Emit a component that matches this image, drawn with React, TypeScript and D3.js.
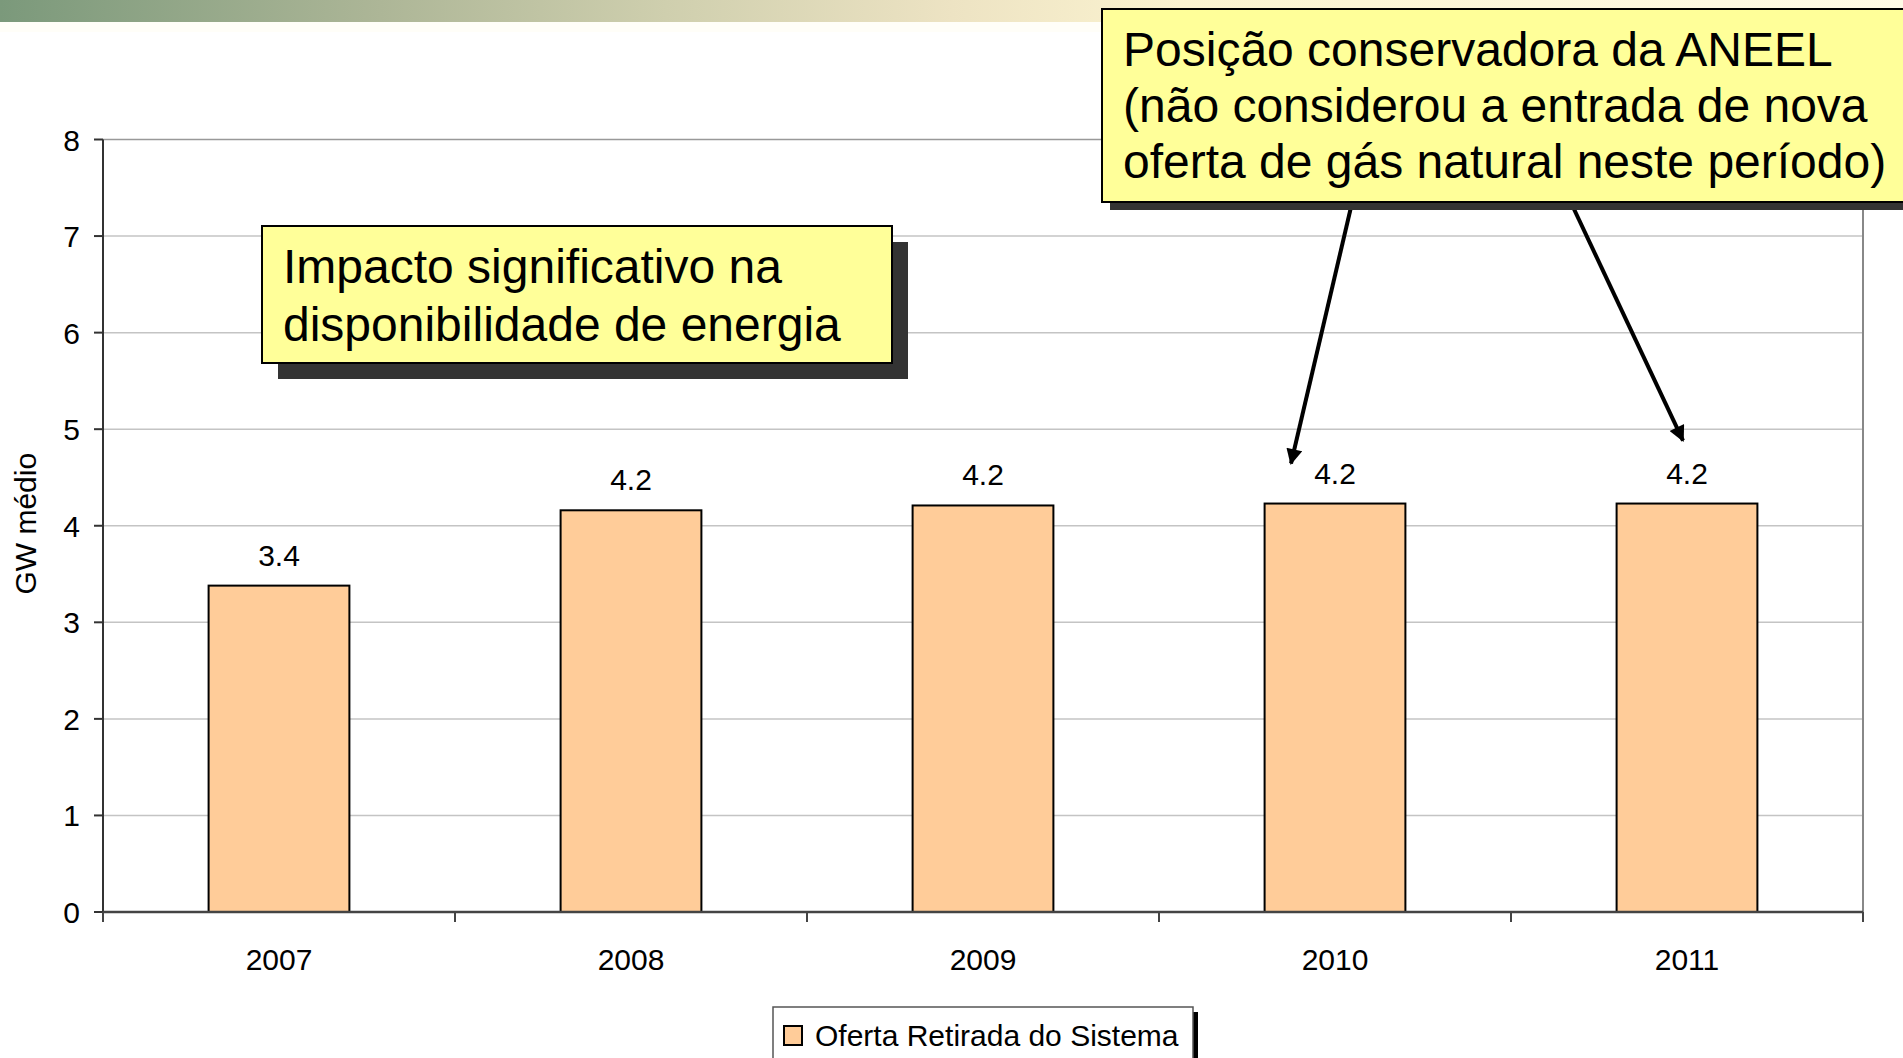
import React from 'react';
import * as d3 from 'd3';

const years = ['2007', '2008', '2009', '2010', '2011'];
const oferta = [3.38, 4.16, 4.21, 4.23, 4.23];
const yTicks = [0, 1, 2, 3, 4, 5, 6, 7, 8];
const seriesName = 'Oferta Retirada do Sistema';
const yLabel = 'GW médio';
const noteLeft = ['Impacto significativo na', 'disponibilidade de energia'];
const noteRight = [
  'Posição conservadora da ANEEL',
  '(não considerou a entrada de nova',
  'oferta de gás natural neste período)',
];

const W = 1903;
const H = 1058;
const FONT = '"Liberation Sans", Arial, sans-serif';

function Callout({ x, y, w, h, lines, shadow, lineGap }) {
  return (
    <g>
      <rect x={x + shadow} y={y + shadow} width={w} height={h} fill="#333333" />
      <rect x={x} y={y} width={w} height={h} fill="#ffff99" stroke="#000" strokeWidth={2} />
      {lines.map((t, i) => (
        <text key={i} x={x + 21} y={y + 57 + i * lineGap} fontSize={48} fontFamily={FONT} fill="#000">
          {t}
        </text>
      ))}
    </g>
  );
}

export default function App() {
  const margin = { left: 103, right: 40, top: 139.5, bottom: 146 };
  const x = d3.scaleBand()
    .domain(years)
    .range([margin.left, W - margin.right])
    .paddingInner(0.6)
    .paddingOuter(0.3);
  const y = d3.scaleLinear()
    .domain([0, 8])
    .range([H - margin.bottom, margin.top]);

  const x0 = margin.left;
  const x1 = W - margin.right;
  const step = x.step();
  const bounds = d3.range(years.length + 1).map(i => x0 + i * step);

  // arrow targets next to the 2010 and 2011 labels
  const c2010 = x('2010') + x.bandwidth() / 2;
  const c2011 = x('2011') + x.bandwidth() / 2;
  const arrows = [
    { x1: c2010 + 20, y1: 190, x2: c2010 - 44, y2: y(oferta[3]) - 40 },
    { x1: c2011 - 122, y1: 190, x2: c2011 - 4, y2: y(oferta[4]) - 63 },
  ];

  return (
    <svg width={W} height={H} style={{ position: 'absolute', left: 0, top: 0, background: '#fff' }}>
      <defs>
        <linearGradient id="band" x1="0" x2="1" y1="0" y2="0">
          <stop offset="0" stopColor="#7b997b" />
          <stop offset="0.2" stopColor="#adb697" />
          <stop offset="0.35" stopColor="#cfcfae" />
          <stop offset="0.5" stopColor="#ede3c3" />
          <stop offset="0.62" stopColor="#fbf3d0" />
          <stop offset="1" stopColor="#fffbe6" />
        </linearGradient>
        <marker id="head" viewBox="0 0 10 10" refX="9" refY="5" markerWidth="4.5" markerHeight="4" orient="auto" markerUnits="strokeWidth">
          <path d="M0,0 L10,5 L0,10 z" fill="#000" />
        </marker>
      </defs>
      <rect x={0} y={0} width={W} height={22} fill="url(#band)" />
      <rect x={0} y={22} width={W} height={10} fill="#fffdf3" opacity={0.6} />

      {/* grid */}
      {yTicks.filter(t => t > 0).map(t => (
        <line key={t} x1={x0} x2={x1} y1={y(t)} y2={y(t)} stroke={t === 8 ? '#999' : '#c4c4c4'} strokeWidth={1.5} />
      ))}
      <line x1={x1} x2={x1} y1={y(8)} y2={y(0) + 10} stroke="#888" strokeWidth={2} />

      {/* y axis */}
      <line x1={x0} x2={x0} y1={y(8)} y2={y(0) + 10} stroke="#333" strokeWidth={2} />
      {yTicks.map(t => (
        <g key={t}>
          <line x1={x0 - 9} x2={x0} y1={y(t)} y2={y(t)} stroke="#333" strokeWidth={2} />
          <text x={80} y={y(t) + 11} textAnchor="end" fontSize={30} fontFamily={FONT} fill="#000">{t}</text>
        </g>
      ))}
      <text transform={`translate(36,${(y(0) + y(8)) / 2 - 2}) rotate(-90)`} textAnchor="middle" fontSize={30} fontFamily={FONT} fill="#000">
        {yLabel}
      </text>

      {/* bars */}
      {years.map((yr, i) => (
        <g key={yr}>
          <rect x={x(yr)} y={y(oferta[i])} width={x.bandwidth()} height={y(0) - y(oferta[i])} fill="#ffcc99" stroke="#000" strokeWidth={2} />
          <text x={x(yr) + x.bandwidth() / 2} y={y(oferta[i]) - 20} textAnchor="middle" fontSize={30} fontFamily={FONT} fill="#000">
            {oferta[i].toFixed(1)}
          </text>
          <text x={x(yr) + x.bandwidth() / 2} y={y(0) + 58} textAnchor="middle" fontSize={30} fontFamily={FONT} fill="#000">
            {yr}
          </text>
        </g>
      ))}

      {/* x axis */}
      <line x1={x0} x2={x1} y1={y(0)} y2={y(0)} stroke="#444" strokeWidth={2.5} />
      {bounds.map((b, i) => (
        <line key={i} x1={b} x2={b} y1={y(0)} y2={y(0) + 10} stroke="#444" strokeWidth={2} />
      ))}

      {/* arrows */}
      {arrows.map((a, i) => (
        <line key={i} x1={a.x1} y1={a.y1} x2={a.x2} y2={a.y2} stroke="#000" strokeWidth={4} markerEnd="url(#head)" />
      ))}

      <Callout x={262} y={226} w={630} h={137} lines={noteLeft} shadow={16} lineGap={58} />
      <Callout x={1102} y={9} w={840} h={193} lines={noteRight} shadow={8} lineGap={56} />

      {/* legend */}
      <rect x={1193} y={1012} width={5} height={50} fill="#000" />
      <rect x={773} y={1007} width={420} height={60} fill="#fff" stroke="#555" strokeWidth={1.5} />
      <rect x={784} y={1026} width={18} height={19} fill="#ffcc99" stroke="#000" strokeWidth={2} />
      <text x={815} y={1046} fontSize={30} fontFamily={FONT} fill="#000">{seriesName}</text>
    </svg>
  );
}
